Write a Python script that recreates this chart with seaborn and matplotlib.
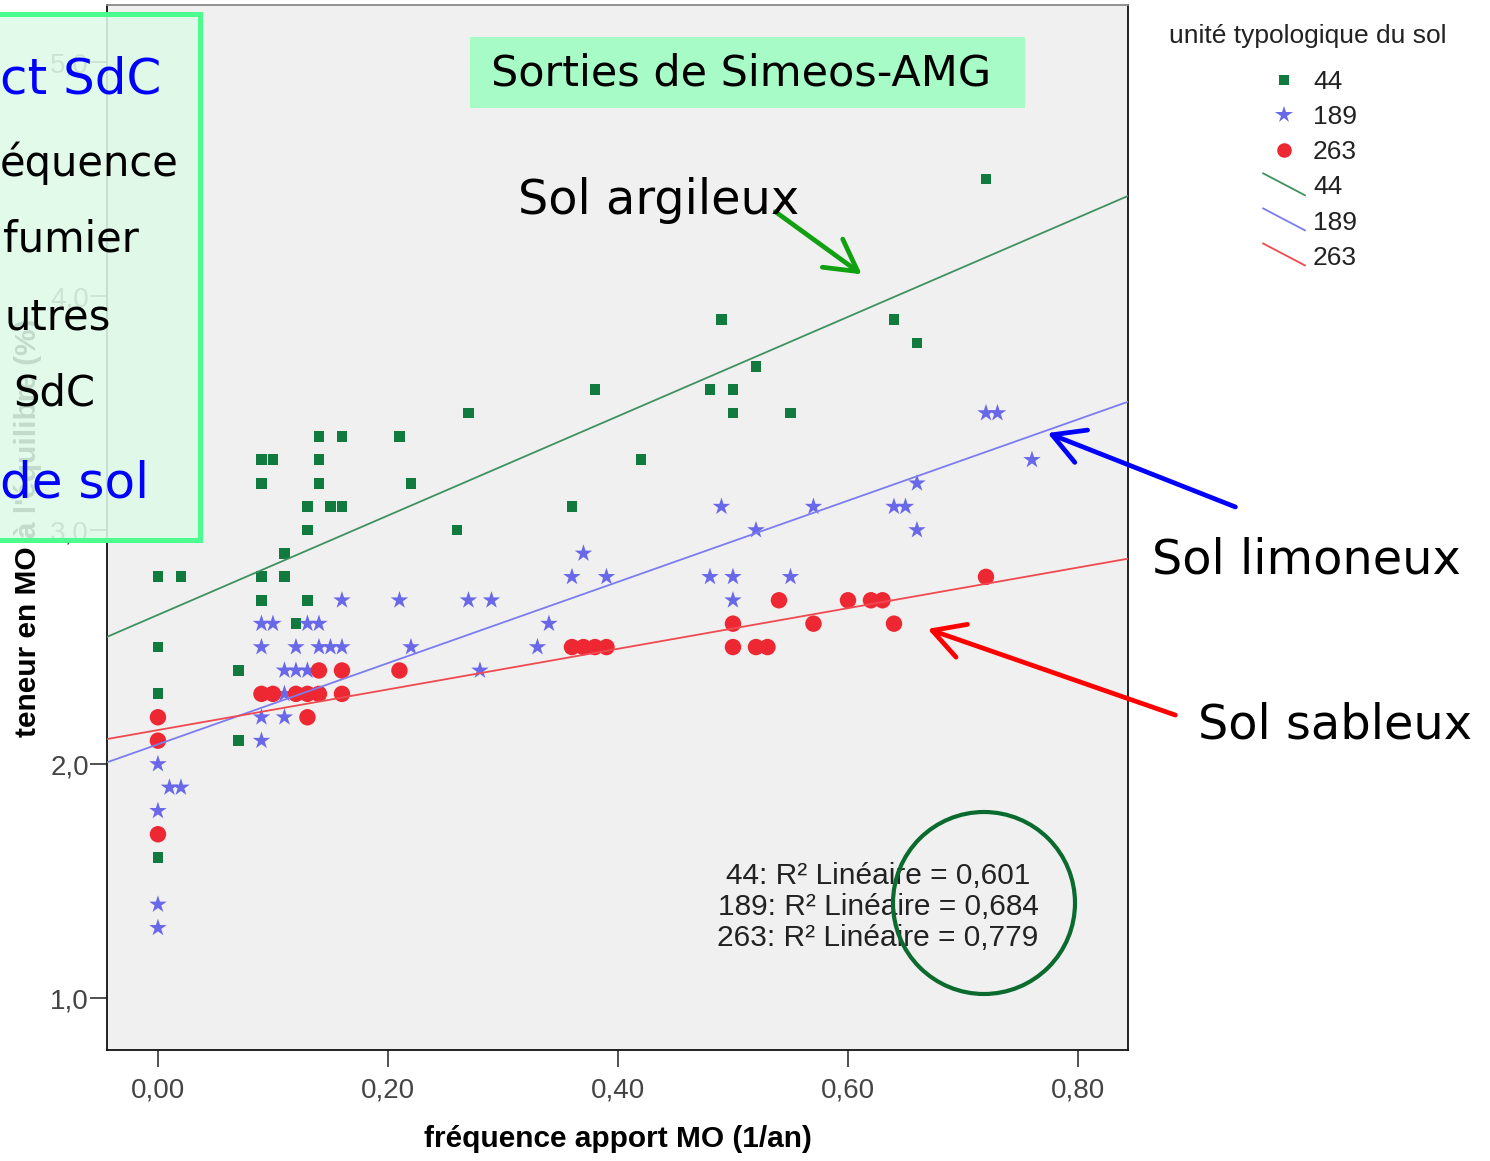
import matplotlib
matplotlib.use("Agg")
import matplotlib.pyplot as plt
import seaborn as sns
import pandas as pd
from matplotlib.lines import Line2D
from matplotlib.patches import Rectangle, Ellipse, FancyArrowPatch
from matplotlib.legend_handler import HandlerBase
from matplotlib.ticker import FuncFormatter

# ---------------- data ----------------
units = ["44", "189", "263"]

freq_44 = [0.14, 0.16, 0.09, 0.10, 0.14, 0.09, 0.14, 0.13, 0.15, 0.16, 0.13, 0.11,
           0.00, 0.02, 0.09, 0.11, 0.09, 0.13, 0.12, 0.00, 0.07, 0.00, 0.07, 0.00,
           0.21, 0.22, 0.27, 0.26, 0.36, 0.38, 0.42, 0.48, 0.49, 0.50, 0.50, 0.52,
           0.55, 0.64, 0.66, 0.72]
mo_44 = [3.4, 3.4, 3.3, 3.3, 3.3, 3.2, 3.2, 3.1, 3.1, 3.1, 3.0, 2.9,
         2.8, 2.8, 2.8, 2.8, 2.7, 2.7, 2.6, 2.5, 2.4, 2.3, 2.1, 1.6,
         3.4, 3.2, 3.5, 3.0, 3.1, 3.6, 3.3, 3.6, 3.9, 3.6, 3.5, 3.7,
         3.5, 3.9, 3.8, 4.5]

freq_189 = [0.16, 0.09, 0.10, 0.13, 0.14, 0.09, 0.12, 0.14, 0.15, 0.16, 0.11, 0.12,
            0.13, 0.11, 0.09, 0.11, 0.09, 0.00, 0.01, 0.02, 0.00, 0.00, 0.00,
            0.21, 0.27, 0.29, 0.22, 0.28, 0.34, 0.33, 0.36, 0.37, 0.39,
            0.49, 0.52, 0.57, 0.48, 0.50, 0.55, 0.50, 0.72, 0.73, 0.76, 0.66,
            0.64, 0.65, 0.66]
mo_189 = [2.7, 2.6, 2.6, 2.6, 2.6, 2.5, 2.5, 2.5, 2.5, 2.5, 2.4, 2.4,
          2.4, 2.3, 2.2, 2.2, 2.1, 2.0, 1.9, 1.9, 1.8, 1.4, 1.3,
          2.7, 2.7, 2.7, 2.5, 2.4, 2.6, 2.5, 2.8, 2.9, 2.8,
          3.1, 3.0, 3.1, 2.8, 2.8, 2.8, 2.7, 3.5, 3.5, 3.3, 3.2,
          3.1, 3.1, 3.0]

freq_263 = [0.00, 0.00, 0.00, 0.09, 0.10, 0.12, 0.13, 0.14, 0.16, 0.14, 0.16, 0.13,
            0.21, 0.36, 0.37, 0.38, 0.39, 0.50, 0.50, 0.52, 0.53, 0.54, 0.57,
            0.60, 0.62, 0.63, 0.64, 0.72]
mo_263 = [2.2, 2.1, 1.7, 2.3, 2.3, 2.3, 2.3, 2.3, 2.3, 2.4, 2.4, 2.2,
          2.4, 2.5, 2.5, 2.5, 2.5, 2.6, 2.5, 2.5, 2.5, 2.7, 2.6,
          2.7, 2.7, 2.7, 2.6, 2.8]

r2_labels = ["0,601", "0,684", "0,779"]
x_ticks = [0.0, 0.2, 0.4, 0.6, 0.8]
y_ticks = [1.0, 2.0, 3.0, 4.0, 5.0]

side_lines = ["ct SdC", "équence", "fumier", "utres", "SdC", "de sol"]
soil_names = ["Sol argileux", "Sol limoneux", "Sol sableux"]

# ---------------- styles ----------------
point_colors = {"44": "#117a3e", "189": "#6868e8", "263": "#ee2833"}
line_colors = {"44": "#3f9160", "189": "#7c7cf0", "263": "#ee4a50"}
markers = {"44": "s", "189": "*", "263": "o"}
sizes = {"44": 60, "189": 175, "263": 140}

sns.set_theme(style="white")
plt.rcParams["font.family"] = ["Liberation Sans", "DejaVu Sans"]

W, H = 1490, 1161
fig = plt.figure(figsize=(W / 100, H / 100), dpi=100)


def fx(px):
    return px / W


def fy(py):
    return 1 - py / H


ax = fig.add_axes([fx(107), fy(1050), fx(1128) - fx(107), fy(5) - fy(1050)])
ax.set_facecolor("#f0f0f0")
ax.set_xlim(-0.0443, 0.8435)
ax.set_ylim(0.778, 5.244)

df = pd.concat([
    pd.DataFrame({"freq": freq_44, "mo": mo_44, "unite": "44"}),
    pd.DataFrame({"freq": freq_189, "mo": mo_189, "unite": "189"}),
    pd.DataFrame({"freq": freq_263, "mo": mo_263, "unite": "263"}),
], ignore_index=True)

sns.scatterplot(data=df, x="freq", y="mo", hue="unite", style="unite", size="unite",
                hue_order=units, style_order=units, size_order=units,
                palette=point_colors, markers=markers, sizes=sizes,
                linewidth=0, legend=False, ax=ax, zorder=2)

for u in units:
    sns.regplot(data=df[df["unite"] == u], x="freq", y="mo", scatter=False, ci=None,
                truncate=False, color=line_colors[u], line_kws={"lw": 1.3, "zorder": 3}, ax=ax)

ax.set_xticks(x_ticks)
ax.set_yticks(y_ticks)
ax.xaxis.set_major_formatter(FuncFormatter(lambda v, p: f"{v:.2f}".replace(".", ",")))
ax.yaxis.set_major_formatter(FuncFormatter(lambda v, p: f"{v:.1f}".replace(".", ",")))
ax.tick_params(axis="both", direction="out", length=12, width=1.2, color="#333333",
               labelsize=20, labelcolor="#444444", bottom=True, left=True)
ax.tick_params(axis="x", pad=8)
ax.tick_params(axis="y", pad=1)
for s in ["left", "bottom", "right"]:
    ax.spines[s].set_color("#111111")
    ax.spines[s].set_linewidth(1.3)
ax.spines["top"].set_color("#888888")
ax.spines["top"].set_linewidth(1.3)

ax.set_xlabel("fréquence apport MO (1/an)", fontsize=21.5, fontweight="bold",
              labelpad=15, color="black")
ax.set_ylabel("teneur en MO à l'équilibre (%)", fontsize=21.5, fontweight="bold",
              labelpad=6, color="black")


# legend on the right
class DiagonalHandler(HandlerBase):
    def create_artists(self, legend, orig_handle, xdescent, ydescent, width, height,
                       fontsize, trans):
        ln = Line2D([-xdescent, -xdescent + width],
                    [-ydescent + height * 1.15, -ydescent - height * 0.05],
                    color=orig_handle.get_color(), lw=orig_handle.get_linewidth(),
                    transform=trans)
        return [ln]


pt_handles = [Line2D([], [], ls="none", marker=markers[u], color=point_colors[u],
                     markersize=10.5 if u == "263" else (13 if u == "189" else 6.5),
                     markeredgewidth=0) for u in units]
ln_handles = [Line2D([], [], color=line_colors[u], lw=1.3) for u in units]
hmap = {h: DiagonalHandler() for h in ln_handles}
leg = ax.legend(pt_handles + ln_handles, units + units,
                loc="upper center", bbox_to_anchor=(fx(1310), fy(57)),
                bbox_transform=fig.transFigure, frameon=False, fontsize=19,
                handlelength=1.6, handletextpad=0.3, labelspacing=0.42, borderpad=0,
                handler_map=hmap)
for t in leg.get_texts():
    t.set_color("#222222")
fig.text(fx(1308), fy(36), "unité typologique du sol", ha="center", va="center",
         fontsize=19, color="#222222")

# R² annotations and circle
for i, u in enumerate(units):
    fig.text(fx(878), fy(876 + 31 * i), f"{u}: R² Linéaire = {r2_labels[i]}",
             ha="center", va="center", fontsize=21.5, color="#222222")
fig.add_artist(Ellipse((fx(984), fy(903)), 182 / W, 182 / H, transform=fig.transFigure,
                       fill=False, edgecolor="#0b6b2e", lw=3, zorder=10))

# title box
fig.add_artist(Rectangle((fx(470), fy(108)), fx(1025) - fx(470), fy(37) - fy(108),
                         transform=fig.transFigure, facecolor="#a6fbc6", edgecolor="none",
                         zorder=10))
fig.text(fx(741), fy(73), "Sorties de Simeos-AMG", ha="center", va="center",
         fontsize=31, family="DejaVu Sans", color="black", zorder=11)

# left overlay box (clipped slide text)
fig.add_artist(Rectangle((fx(-10), fy(540)), fx(210), fy(14) - fy(540),
                         transform=fig.transFigure, facecolor=(0.87, 0.98, 0.91, 0.88),
                         edgecolor="#4dfc8f", lw=3.6, zorder=10))
side_y = [79, 163, 240, 318, 393, 483]
side_x = [0, 0, 3, 5, 13, 0]
for i, txt in enumerate(side_lines):
    blue = i in (0, 5)
    fig.text(fx(side_x[i]), fy(side_y[i]), txt, ha="left", va="center",
             fontsize=36 if blue else 30, family="DejaVu Sans",
             color="#0000ff" if blue else "black", zorder=11)

# soil labels and arrows
soil_pos = [(518, 200), (1152, 560), (1198, 725)]
for name, (px, py) in zip(soil_names, soil_pos):
    fig.text(fx(px), fy(py), name, ha="left", va="center", fontsize=34.5,
             family="DejaVu Sans", color="black", zorder=11)

arrows = [((773, 210), (864, 276), "#10a010"),
          ((1238, 508), (1045, 432), "#0000ff"),
          ((1178, 716), (925, 628), "#ff0000")]
for (x0, y0), (x1, y1), c in arrows:
    fig.add_artist(FancyArrowPatch(
        (fx(x0), fy(y0)), (fx(x1), fy(y1)), transform=fig.transFigure,
        arrowstyle="->,head_length=0.9,head_width=0.5", mutation_scale=25,
        color=c, lw=3.4, zorder=11))

fig.savefig("out.png", dpi=100)
